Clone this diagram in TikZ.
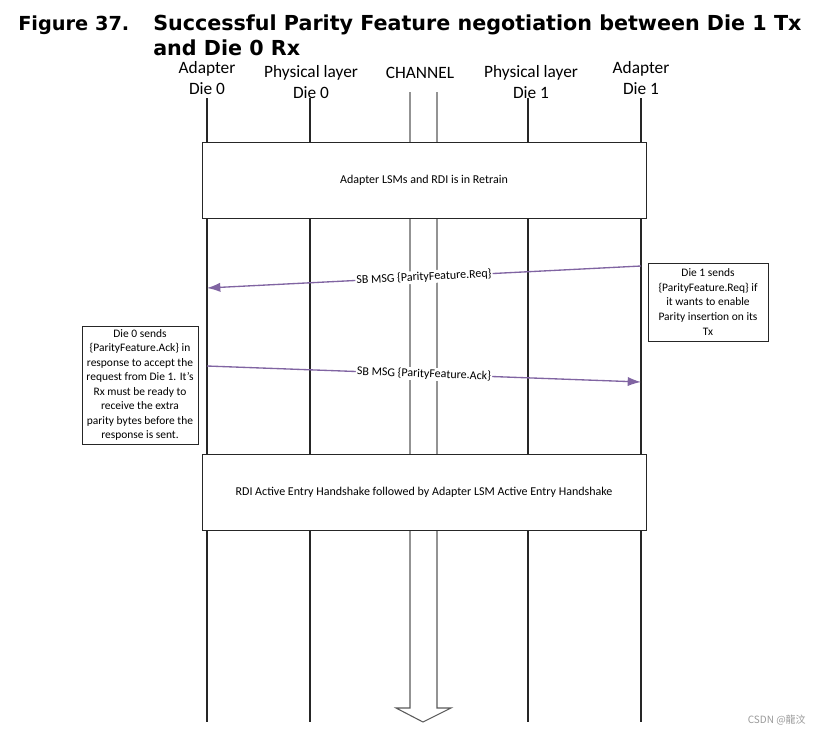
\documentclass[tikz,border=0pt]{standalone}
\usepackage{fontspec}
\setmainfont{Carlito}
\newfontfamily\titlefont{DejaVu Sans}
\newfontfamily\cjkfont{Noto Sans CJK SC}
\usetikzlibrary{arrows.meta}
\definecolor{LaneInk}{HTML}{262626}
\definecolor{ChanInk}{HTML}{5A5A5A}
\definecolor{MsgViolet}{HTML}{8064A2}
\definecolor{MarkGrey}{HTML}{9A9A9A}

\begin{document}
\begin{tikzpicture}[x=0.75pt,y=-0.75pt,
    lane/.style={draw=LaneInk,line width=0.9pt},
    chan/.style={draw=ChanInk,line width=0.8pt},
    title/.style={anchor=base west,inner sep=0pt,font=\titlefont\bfseries\fontsize{15.5}{18}\selectfont},
    head/.style={font=\fontsize{13}{15.8}\selectfont,align=center,inner sep=0pt},
    phase/.style={draw=LaneInk,fill=white,line width=0.7pt,minimum width=333pt,minimum height=57pt,inner sep=0pt,font=\fontsize{9}{11}\selectfont},
    note/.style={draw=LaneInk,fill=white,line width=0.6pt,align=center,inner sep=0pt,font=\fontsize{8.6}{10.9}\selectfont},
    msg/.style={MsgViolet,line width=1pt,-{Latex[length=10pt,width=7pt]}},
    msglabel/.style={fill=white,inner sep=0.8pt,sloped,text=black,font=\fontsize{9}{11}\selectfont}]
    \useasboundingbox[fill=white] (0,0) rectangle (816,736);

    \node[title,font=\titlefont\bfseries\fontsize{14.5}{18}\selectfont] (fig) at (18,30) {Figure 37.};
    \node[title] (cap1) at (153,30) {Successful Parity Feature negotiation between Die 1 Tx};
    \node[title] (cap2) at (153,55) {and Die 0 Rx};

    \node[head] (adp0) at (207,78) {Adapter\\Die 0};
    \node[head] (phy0) at (311,82) {Physical layer\\Die 0};
    \node[head] (chn) at (420,73) {CHANNEL};
    \node[head] (phy1) at (531,82) {Physical layer\\Die 1};
    \node[head] (adp1) at (641,78) {Adapter\\Die 1};

    \coordinate (a0t) at (207,98);  \coordinate (a0b) at (207,722);
    \coordinate (p0t) at (310,98);  \coordinate (p0b) at (310,722);
    \coordinate (p1t) at (528,98);  \coordinate (p1b) at (528,722);
    \coordinate (a1t) at (641,98);  \coordinate (a1b) at (641,722);
    \coordinate (c0t) at (410,92);  \coordinate (c1t) at (437,92);
    \coordinate (tip) at (423,722);

    \foreach \t/\b in {a0t/a0b,p0t/p0b,p1t/p1b,a1t/a1b}
      \draw[lane] (\t) -- (\b);
    \draw[chan,line join=miter] (c0t) -- (c0t |- 0,708) -- (396,708) -- (tip) -- (451,708) -- (c1t |- 0,708) -- (c1t);

    \node[phase] (retrain) at (424,180) {Adapter LSMs and RDI is in Retrain};
    \node[phase] (active) at (424,492) {RDI Active Entry Handshake followed by Adapter LSM Active Entry Handshake};

    \node[note,minimum width=90pt,minimum height=58.5pt] (reqnote) at (708,302)
      {Die 1 sends\\\{ParityFeature.Req\} if\\it wants to enable\\Parity insertion on its\\Tx};
    \node[note,minimum width=87pt,minimum height=88.5pt] (acknote) at (140,385)
      {Die 0 sends\\\{ParityFeature.Ack\} in\\response to accept the\\request from Die 1. It’s\\Rx must be ready to\\receive the extra\\parity bytes before the\\response is sent.};

    \coordinate (reqS) at (641,266);  \coordinate (reqE) at (207,288);
    \coordinate (ackS) at (207,366);  \coordinate (ackE) at (641,382);
    \draw[msg] (reqS) -- node[msglabel] (reqlbl) {SB MSG \{ParityFeature.Req\}} (reqE);
    \draw[msg] (ackS) -- node[msglabel] (acklbl) {SB MSG \{ParityFeature.Ack\}} (ackE);

    \node[anchor=east,text=MarkGrey,font=\cjkfont\fontsize{7.5}{9}\selectfont,inner sep=0pt] (mark) at (806,720) {CSDN @龍汶};
  \end{tikzpicture}
\end{document}
